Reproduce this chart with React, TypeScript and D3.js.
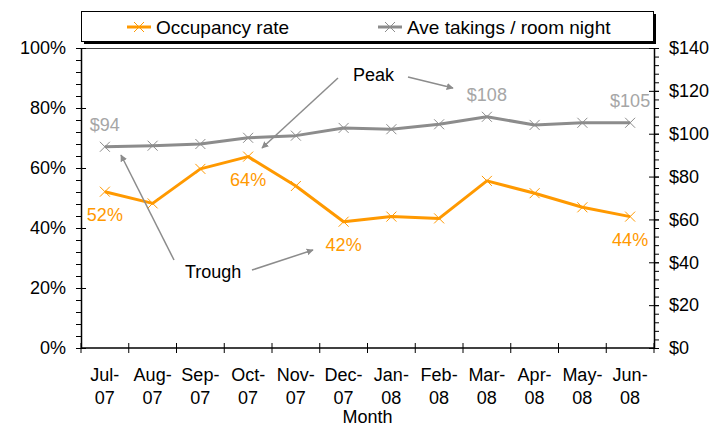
import { useEffect, useRef } from 'react';
import * as d3 from 'd3';

const months = ['Jul-07', 'Aug-07', 'Sep-07', 'Oct-07', 'Nov-07', 'Dec-07', 'Jan-08', 'Feb-08', 'Mar-08', 'Apr-08', 'May-08', 'Jun-08'];
const occupancy = [0.521, 0.482, 0.597, 0.638, 0.54, 0.421, 0.438, 0.432, 0.557, 0.516, 0.469, 0.438];
const takings = [93.9, 94.4, 95.2, 98.1, 99.1, 102.7, 102.1, 104.4, 107.9, 104.1, 105.1, 105.1];
const occLabelMonths = ['Jul-07', 'Oct-07', 'Dec-07', 'Jun-08'];
const takLabelMonths = ['Jul-07', 'Mar-08', 'Jun-08'];
const leftTicks = [0, 0.2, 0.4, 0.6, 0.8, 1];
const rightTicks = [0, 20, 40, 60, 80, 100, 120, 140];

const ORANGE = '#FF9900';
const GREY = '#8C8C8C';
const GREY_TEXT = '#A6A6A6';
const FONT = '"Liberation Sans", Arial, sans-serif';

export default function App() {
    const svgRef = useRef<SVGSVGElement>(null);

    useEffect(() => {
        const svg = d3.select(svgRef.current);
        svg.selectAll('*').remove();

        const left = 81, right = 654, top = 48, bottom = 348;

        const x = d3.scaleBand().domain(months).range([left, right]);
        const cx = (m: string) => (x(m) as number) + x.bandwidth() / 2;
        const yL = d3.scaleLinear().domain([0, 1]).range([bottom, top]);
        const yR = d3.scaleLinear().domain([0, 140]).range([bottom, top]);

        const g = svg.append('g').style('font-family', FONT);

        // top border of plot area
        g.append('line')
            .attr('x1', left).attr('x2', right)
            .attr('y1', top + 0.5).attr('y2', top + 0.5)
            .attr('stroke', '#444').attr('stroke-width', 1);

        // Left axis: minor then major
        g.append('g')
            .attr('transform', `translate(${left},0)`)
            .call(d3.axisLeft(yL).tickValues(d3.range(0, 1.0001, 0.04)).tickSize(5).tickSizeOuter(0).tickFormat(() => ''))
            .call((a) => a.select('.domain').remove());
        const la = g.append('g')
            .attr('transform', `translate(${left},0)`)
            .call(d3.axisLeft(yL).tickValues(leftTicks).tickSize(5).tickPadding(10).tickSizeOuter(0).tickFormat(d3.format('.0%')));
        la.selectAll('.tick line').attr('x1', 5);
        la.select('.domain').attr('stroke-width', 1.5);

        // Right axis
        g.append('g')
            .attr('transform', `translate(${right},0)`)
            .call(d3.axisRight(yR).tickValues(d3.range(0, 140.001, 4)).tickSize(5).tickSizeOuter(0).tickFormat(() => ''))
            .call((a) => a.select('.domain').remove());
        const ra = g.append('g')
            .attr('transform', `translate(${right},0)`)
            .call(d3.axisRight(yR).tickValues(rightTicks).tickSize(5).tickPadding(10).tickSizeOuter(0).tickFormat((d) => `$${d}`));
        ra.selectAll('.tick line').attr('x1', -5);
        ra.select('.domain').attr('stroke-width', 1.5);

        [la, ra].forEach((a) => a.selectAll('text').style('font-size', '18px').style('font-family', FONT).attr('fill', '#000'));

        // Bottom axis
        g.append('line')
            .attr('x1', left).attr('x2', right)
            .attr('y1', bottom).attr('y2', bottom)
            .attr('stroke', '#000').attr('stroke-width', 1.5);
        g.selectAll('.xtick')
            .data(d3.range(months.length + 1))
            .enter()
            .append('line')
            .attr('x1', (i) => left + i * x.step())
            .attr('x2', (i) => left + i * x.step())
            .attr('y1', bottom - 5).attr('y2', bottom + 5)
            .attr('stroke', '#000');

        const xl = g.selectAll('.xlabel')
            .data(months)
            .enter()
            .append('text')
            .attr('text-anchor', 'middle')
            .attr('x', (d) => cx(d))
            .style('font-size', '18px');
        xl.append('tspan').attr('x', (d) => cx(d)).attr('y', 381).text((d) => d.split('-')[0] + '-');
        xl.append('tspan').attr('x', (d) => cx(d)).attr('y', 404).text((d) => d.split('-')[1]);

        g.append('text')
            .attr('x', (left + right) / 2)
            .attr('y', 423)
            .attr('text-anchor', 'middle')
            .style('font-size', '18px')
            .text('Month');

        // Series
        const drawSeries = (vals: number[], y: d3.ScaleLinear<number, number>, color: string) => {
            const line = d3.line<number>().x((_, i) => cx(months[i])).y((d) => y(d));
            g.append('path')
                .datum(vals)
                .attr('d', line)
                .attr('fill', 'none')
                .attr('stroke', color)
                .attr('stroke-width', 3)
                .attr('stroke-linejoin', 'round');
            g.selectAll(null)
                .data(vals)
                .enter()
                .append('path')
                .attr('d', (d, i) => {
                    const px = cx(months[i]), py = y(d), s = 5;
                    return `M${px - s},${py - s}L${px + s},${py + s}M${px - s},${py + s}L${px + s},${py - s}`;
                })
                .attr('stroke', color)
                .attr('stroke-width', 1);
        };
        drawSeries(takings, yR, GREY);
        drawSeries(occupancy, yL, ORANGE);

        // Data labels
        occLabelMonths.forEach((m) => {
            const v = occupancy[months.indexOf(m)];
            g.append('text')
                .attr('x', cx(m)).attr('y', yL(v) + 29)
                .attr('text-anchor', 'middle')
                .attr('fill', ORANGE)
                .style('font-size', '18px')
                .text(`${Math.round(v * 100)}%`);
        });
        takLabelMonths.forEach((m) => {
            const v = takings[months.indexOf(m)];
            g.append('text')
                .attr('x', cx(m)).attr('y', yR(v) - 16)
                .attr('text-anchor', 'middle')
                .attr('fill', GREY_TEXT)
                .style('font-size', '18px')
                .text(`$${Math.round(v)}`);
        });

        // Annotations
        svg.append('defs')
            .append('marker')
            .attr('id', 'arrow')
            .attr('viewBox', '0 0 10 10')
            .attr('refX', 9).attr('refY', 5)
            .attr('markerWidth', 7).attr('markerHeight', 7)
            .attr('markerUnits', 'userSpaceOnUse')
            .attr('orient', 'auto')
            .append('path')
            .attr('d', 'M0,0L10,5L0,10Z')
            .attr('fill', GREY);

        const arrows = [
            [338, 78, 262, 148],
            [408, 77, 453, 88],
            [174, 260, 121, 155],
            [252, 270, 313, 250],
        ];
        arrows.forEach(([x1, y1, x2, y2]) => {
            g.append('line')
                .attr('x1', x1).attr('y1', y1).attr('x2', x2).attr('y2', y2)
                .attr('stroke', GREY).attr('stroke-width', 1.5)
                .attr('marker-end', 'url(#arrow)');
        });
        g.append('text').attr('x', 353).attr('y', 81).style('font-size', '18px').text('Peak');
        g.append('text').attr('x', 185).attr('y', 278).style('font-size', '18px').text('Trough');

        // Legend
        const lg = g.append('g');
        lg.append('rect')
            .attr('x', 84).attr('y', 14).attr('width', 572).attr('height', 30)
            .attr('fill', '#000');
        lg.append('rect')
            .attr('x', 81.5).attr('y', 11.5).attr('width', 572).attr('height', 30)
            .attr('fill', '#fff').attr('stroke', '#000').attr('stroke-width', 1);
        const items = [
            { label: 'Occupancy rate', color: ORANGE, x: 127 },
            { label: 'Ave takings / room night', color: GREY, x: 378 },
        ];
        items.forEach((it) => {
            const ly = 27;
            lg.append('line')
                .attr('x1', it.x).attr('x2', it.x + 24).attr('y1', ly).attr('y2', ly)
                .attr('stroke', it.color).attr('stroke-width', 3);
            const mx = it.x + 12, s = 5;
            lg.append('path')
                .attr('d', `M${mx - s},${ly - s}L${mx + s},${ly + s}M${mx - s},${ly + s}L${mx + s},${ly - s}`)
                .attr('stroke', it.color).attr('stroke-width', 1);
            lg.append('text')
                .attr('x', it.x + 29).attr('y', 34)
                .style('font-size', '19px')
                .text(it.label);
        });
    }, []);

    return (
        <div style={{ position: 'absolute', left: 0, top: 0 }}>
            <svg ref={svgRef} width={728} height={428} style={{ display: 'block', background: '#fff' }}></svg>
        </div>
    );
}
